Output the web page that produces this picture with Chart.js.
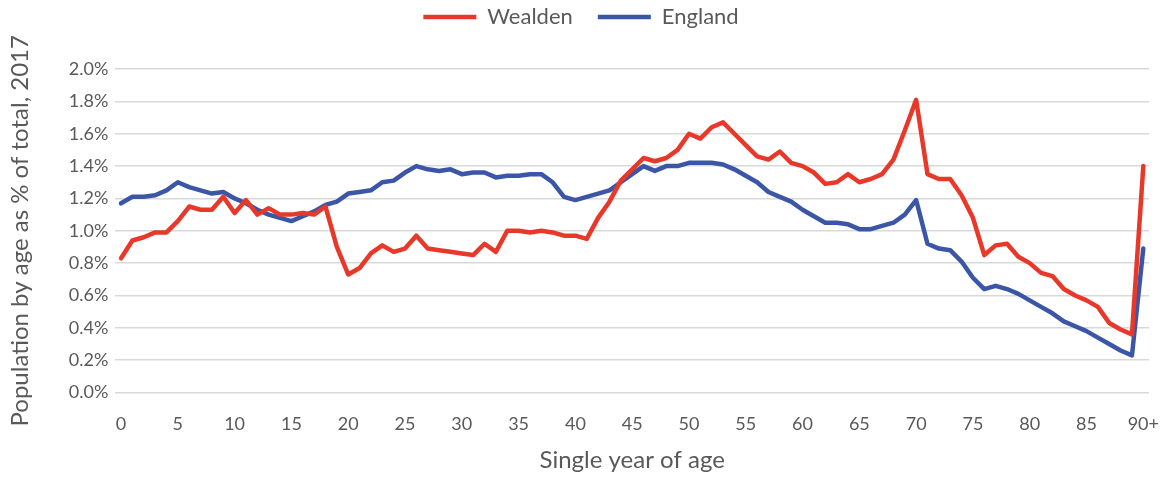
<!DOCTYPE html>
<html>
<head>
<meta charset="utf-8">
<script src="https://cdn.jsdelivr.net/npm/chart.js@4"></script>
<style>
  html, body { margin: 0; padding: 0; background: #fff; }
  #wrap { width: 1162px; height: 480px; }
</style>
</head>
<body>
<div id="wrap"><canvas id="chart"></canvas></div>
<script>
// --- ages 0..89 and 90+ ---
const ages = [];
for (let a = 0; a < 90; a++) ages.push(String(a));
ages.push('90+');

// --- % of total population by single year of age, 2017 ---
const wealden = [
  0.83, 0.94, 0.96, 0.99, 0.99, 1.06, 1.15, 1.13, 1.13, 1.21,
  1.11, 1.19, 1.10, 1.14, 1.10, 1.10, 1.11, 1.10, 1.15, 0.90,
  0.73, 0.77, 0.86, 0.91, 0.87, 0.89, 0.97, 0.89, 0.88, 0.87,
  0.86, 0.85, 0.92, 0.87, 1.00, 1.00, 0.99, 1.00, 0.99, 0.97,
  0.97, 0.95, 1.08, 1.18, 1.31, 1.38, 1.45, 1.43, 1.45, 1.50,
  1.60, 1.57, 1.64, 1.67, 1.60, 1.53, 1.46, 1.44, 1.49, 1.42,
  1.40, 1.36, 1.29, 1.30, 1.35, 1.30, 1.32, 1.35, 1.44, 1.62,
  1.81, 1.35, 1.32, 1.32, 1.22, 1.08, 0.85, 0.91, 0.92, 0.84,
  0.80, 0.74, 0.72, 0.64, 0.60, 0.57, 0.53, 0.43, 0.39, 0.36,
  1.40
];
const england = [
  1.17, 1.21, 1.21, 1.22, 1.25, 1.30, 1.27, 1.25, 1.23, 1.24,
  1.20, 1.17, 1.13, 1.10, 1.08, 1.06, 1.09, 1.12, 1.16, 1.18,
  1.23, 1.24, 1.25, 1.30, 1.31, 1.36, 1.40, 1.38, 1.37, 1.38,
  1.35, 1.36, 1.36, 1.33, 1.34, 1.34, 1.35, 1.35, 1.30, 1.21,
  1.19, 1.21, 1.23, 1.25, 1.30, 1.35, 1.40, 1.37, 1.40, 1.40,
  1.42, 1.42, 1.42, 1.41, 1.38, 1.34, 1.30, 1.24, 1.21, 1.18,
  1.13, 1.09, 1.05, 1.05, 1.04, 1.01, 1.01, 1.03, 1.05, 1.10,
  1.19, 0.92, 0.89, 0.88, 0.81, 0.71, 0.64, 0.66, 0.64, 0.61,
  0.57, 0.53, 0.49, 0.44, 0.41, 0.38, 0.34, 0.30, 0.26, 0.23,
  0.89
];

const FONT = "Lato, 'Open Sans', sans-serif";
const TEXT = '#595959';

// make the legend box taller so the plot starts lower, like the original
const legendSpace = {
  id: 'legendSpace',
  beforeInit(chart) {
    const fit = chart.legend.fit;
    chart.legend.fit = function () {
      fit.bind(chart.legend)();
      this.height = 88;
    };
  }
};

new Chart(document.getElementById('chart'), {
  type: 'line',
  data: {
    labels: ages,
    datasets: [
      {
        label: 'Wealden',
        data: wealden,
        borderColor: '#E8382A',
        backgroundColor: '#E8382A',
        borderWidth: 4.5,
        borderCapStyle: 'round',
        pointRadius: 0,
        tension: 0,
        borderJoinStyle: 'round'
      },
      {
        label: 'England',
        data: england,
        borderColor: '#3B56A6',
        backgroundColor: '#3B56A6',
        borderWidth: 4.5,
        borderCapStyle: 'round',
        pointRadius: 0,
        tension: 0,
        borderJoinStyle: 'round'
      }
    ]
  },
  options: {
    responsive: true,
    maintainAspectRatio: false,
    animation: false,
    layout: { padding: { left: 6, right: 6, top: -19, bottom: 5 } },
    plugins: {
      legend: {
        position: 'top',
        labels: {
          usePointStyle: true,
          pointStyle: 'line',
          pointStyleWidth: 53,
          padding: 25,
          color: TEXT,
          font: { family: FONT, size: 22 }
        }
      },
      tooltip: { enabled: false }
    },
    scales: {
      x: {
        offset: true,
        // hidden grid, but the tick length keeps the gap under the plot
        grid: { display: false, drawTicks: true, tickLength: 18 },
        border: { display: false },
        ticks: {
          color: TEXT,
          font: { family: FONT, size: 18 },
          autoSkip: false,
          maxRotation: 0,
          padding: 3,
          callback: function (v, i) {
            return (i % 5 === 0) ? ages[i] : null;
          }
        },
        title: {
          display: true,
          text: 'Single year of age',
          color: TEXT,
          font: { family: FONT, size: 24 },
          padding: { top: 8, bottom: 0 }
        }
      },
      y: {
        min: 0,
        max: 2.0,
        grid: { color: '#D9D9D9', lineWidth: 1.5, drawTicks: false },
        border: { display: false },
        ticks: {
          stepSize: 0.2,
          color: TEXT,
          font: { family: FONT, size: 18 },
          padding: 7,
          callback: v => v.toFixed(1) + '%'
        },
        title: {
          display: true,
          text: 'Population by age as % of total, 2017',
          color: TEXT,
          font: { family: FONT, size: 24 },
          padding: { top: 0, bottom: 27 }
        }
      }
    }
  },
  plugins: [legendSpace]
});
</script>
</body>
</html>
